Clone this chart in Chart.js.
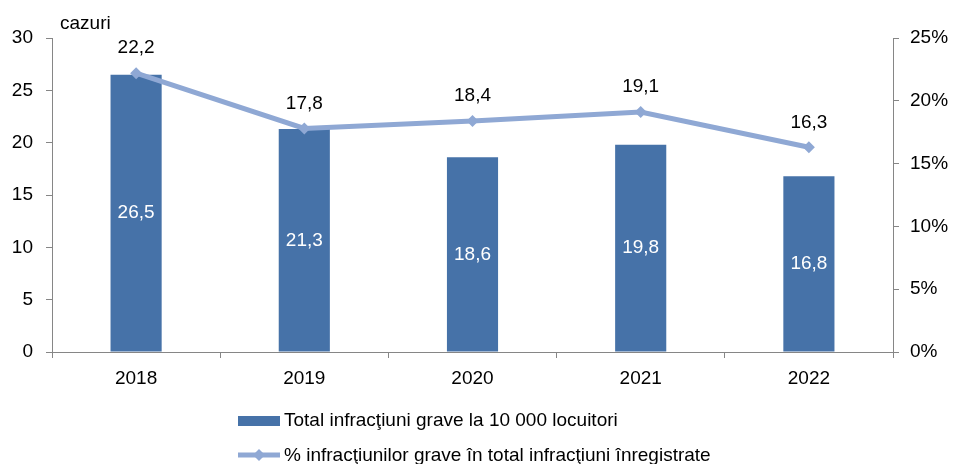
<!DOCTYPE html>
<html>
<head>
<meta charset="utf-8">
<script src="https://cdn.jsdelivr.net/npm/chart.js@4/dist/chart.umd.min.js"></script>
<style>
  html, body { margin: 0; padding: 0; background: #fff; }
  #wrap { width: 953px; height: 464px; position: relative; }
</style>
</head>
<body>
<div id="wrap"><canvas id="chart"></canvas></div>
<script>
// data
const years = ['2018', '2019', '2020', '2021', '2022'];
const totalPer10k = [26.5, 21.3, 18.6, 19.8, 16.8];
const sharePercent = [22.2, 17.8, 18.4, 19.1, 16.3];
const barLabel = 'Total infracţiuni grave la 10 000 locuitori';
const lineLabel = '% infracţiunilor grave în total infracţiuni înregistrate';

const FONT = '"Liberation Sans", Arial, sans-serif';
const FS = 19;
const BAR = '#4672A8';
const LINE = '#8FA8D4';
const AXIS = '#868686';

const fmt = v => v.toFixed(1).replace('.', ',');

// value labels, the "cazuri" title and the stacked legend
const extras = {
  id: 'extras',
  afterDatasetsDraw(chart) {
    const ctx = chart.ctx;
    ctx.save();
    ctx.font = FS + 'px ' + FONT;
    ctx.textAlign = 'center';
    ctx.textBaseline = 'middle';

    // dataset 1 is the bars, dataset 0 the line
    chart.getDatasetMeta(1).data.forEach((bar, i) => {
      ctx.fillStyle = '#ffffff';
      ctx.fillText(fmt(totalPer10k[i]), bar.x, (bar.y + bar.base) / 2);
    });
    chart.getDatasetMeta(0).data.forEach((pt, i) => {
      ctx.fillStyle = '#000000';
      ctx.fillText(fmt(sharePercent[i]), pt.x, pt.y - 25);
    });

    ctx.textAlign = 'left';
    ctx.fillText('cazuri', 60, 24);

    // legend
    ctx.fillStyle = BAR;
    ctx.fillRect(238, 416, 42, 10);
    ctx.fillStyle = '#000';
    ctx.fillText(barLabel, 284, 421);

    ctx.strokeStyle = LINE;
    ctx.lineWidth = 5;
    ctx.beginPath();
    ctx.moveTo(238, 455);
    ctx.lineTo(280, 455);
    ctx.stroke();
    ctx.fillStyle = LINE;
    ctx.beginPath();
    ctx.moveTo(259, 449); ctx.lineTo(265, 455); ctx.lineTo(259, 461); ctx.lineTo(253, 455);
    ctx.closePath();
    ctx.fill();
    ctx.fillStyle = '#000';
    ctx.fillText(lineLabel, 284, 456);
    ctx.restore();
  }
};

new Chart(document.getElementById('chart'), {
  data: {
    labels: years,
    datasets: [
      {
        type: 'line',
        label: lineLabel,
        data: sharePercent,
        yAxisID: 'y1',
        borderColor: LINE,
        backgroundColor: LINE,
        borderWidth: 5,
        pointStyle: 'rectRot',
        pointRadius: 6,
        pointHoverRadius: 6,
        pointBorderWidth: 0,
        tension: 0,
        order: 0
      },
      {
        type: 'bar',
        label: barLabel,
        data: totalPer10k,
        yAxisID: 'y',
        backgroundColor: BAR,
        barPercentage: 0.304,
        categoryPercentage: 1,
        order: 1
      }
    ]
  },
  options: {
    responsive: true,
    maintainAspectRatio: false,
    animation: false,
    layout: { padding: { top: 38, left: 0, right: 0, bottom: 0 } },
    plugins: {
      legend: { display: false },
      tooltip: { enabled: false }
    },
    scales: {
      x: {
        offset: true,
        grid: { offset: true, drawOnChartArea: false, tickLength: 6, color: AXIS, tickColor: AXIS },
        border: { color: AXIS, width: 1 },
        ticks: { color: '#000', font: { family: FONT, size: FS }, padding: 9 },
        afterFit: s => { s.height = 112; }
      },
      y: {
        position: 'left',
        min: 0, max: 30,
        ticks: { stepSize: 5, color: '#000', font: { family: FONT, size: FS }, padding: 13 },
        grid: { drawOnChartArea: false, tickLength: 6, tickColor: AXIS },
        border: { color: AXIS, width: 1 },
        afterFit: s => { s.width = 52; }
      },
      y1: {
        position: 'right',
        min: 0, max: 25,
        ticks: { stepSize: 5, color: '#000', font: { family: FONT, size: FS }, padding: 11, callback: v => v + '%' },
        grid: { drawOnChartArea: false, tickLength: 6, tickColor: AXIS },
        border: { color: AXIS, width: 1 },
        afterFit: s => { s.width = 60; }
      }
    }
  },
  plugins: [extras]
});
</script>
</body>
</html>
